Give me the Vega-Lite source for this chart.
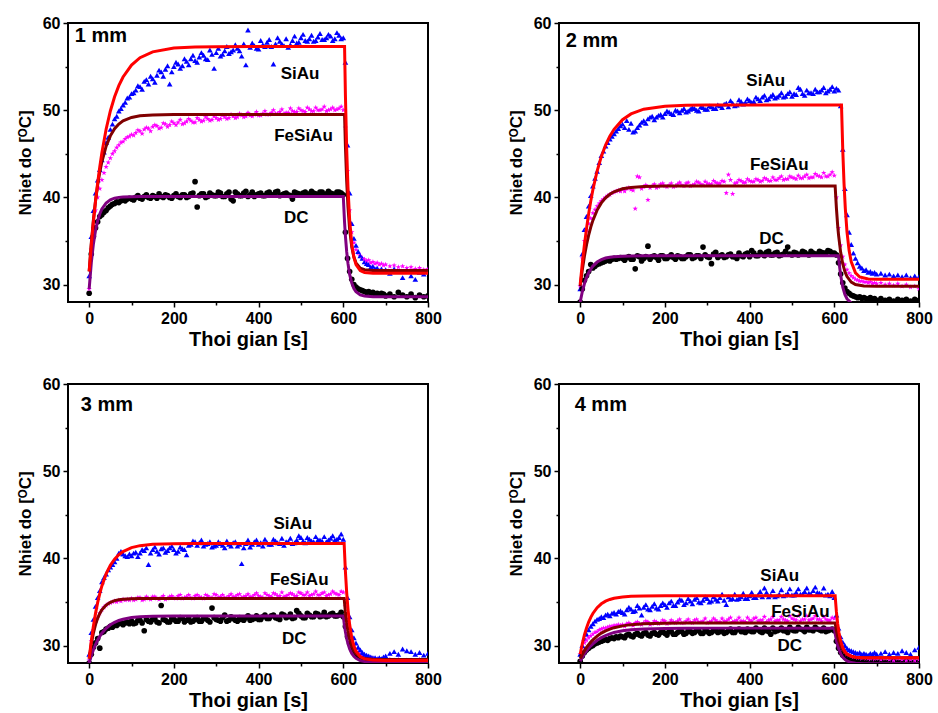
{
"$schema": "https://vega.github.io/schema/vega-lite/v6.json",
"padding": {"left": 15, "top": 14, "right": 0, "bottom": 0},
"bounds": "flush",
"data": {"values": [
{"p":"1 mm","t":0,"a":31.0,"b":29.5,"c":29.0},{"p":"1 mm","t":5,"a":35.5,"b":34.0,"c":33.5},{"p":"1 mm","t":10,"a":38.5,"b":36.5,"c":35.5},{"p":"1 mm","t":15,"a":40.5,"b":38.5,"c":36.5},{"p":"1 mm","t":20,"a":42.0,"b":40.0,"c":37.2},{"p":"1 mm","t":25,"a":43.2,"b":41.0,"c":37.8},{"p":"1 mm","t":30,"a":44.3,"b":42.0,"c":38.0},{"p":"1 mm","t":35,"a":45.2,"b":42.8,"c":38.3},{"p":"1 mm","t":40,"a":46.3,"b":43.5,"c":38.5},{"p":"1 mm","t":45,"a":46.9,"b":44.0,"c":38.8},{"p":"1 mm","t":50,"a":47.8,"b":44.5,"c":39.0},{"p":"1 mm","t":55,"a":48.4,"b":45.0,"c":39.2},{"p":"1 mm","t":60,"a":49.0,"b":45.3,"c":39.3},{"p":"1 mm","t":65,"a":49.3,"b":45.7,"c":39.5},{"p":"1 mm","t":70,"a":49.9,"b":46.0,"c":39.4},{"p":"1 mm","t":75,"a":50.2,"b":46.3,"c":39.6},{"p":"1 mm","t":80,"a":50.6,"b":46.4,"c":39.7},{"p":"1 mm","t":85,"a":50.9,"b":46.7,"c":39.6},{"p":"1 mm","t":90,"a":51.4,"b":46.9,"c":39.8},{"p":"1 mm","t":95,"a":51.5,"b":47.0,"c":39.9},{"p":"1 mm","t":100,"a":51.9,"b":47.2,"c":39.8},
{"p":"1 mm","t":110,"a":52.3,"b":47.4,"c":40.0},{"p":"1 mm","t":120,"a":52.7,"b":47.6,"c":39.9},{"p":"1 mm","t":130,"a":53.3,"b":47.8,"c":40.1},{"p":"1 mm","t":140,"a":53.0,"b":47.9,"c":40.0},{"p":"1 mm","t":150,"a":53.6,"b":48.1,"c":40.2},{"p":"1 mm","t":160,"a":54.0,"b":48.2,"c":39.9},{"p":"1 mm","t":170,"a":54.4,"b":48.0,"c":40.1},{"p":"1 mm","t":180,"a":54.7,"b":48.4,"c":40.3},{"p":"1 mm","t":190,"a":53.0,"b":48.3,"c":40.0},{"p":"1 mm","t":200,"a":55.0,"b":48.5,"c":40.2},{"p":"1 mm","t":210,"a":55.3,"b":48.6,"c":40.1},{"p":"1 mm","t":220,"a":55.1,"b":48.4,"c":40.3},{"p":"1 mm","t":230,"a":55.6,"b":48.7,"c":40.0},{"p":"1 mm","t":240,"a":55.9,"b":48.8,"c":40.4},{"p":"1 mm","t":250,"a":55.7,"b":48.6,"c":41.8},{"p":"1 mm","t":260,"a":56.1,"b":48.9,"c":40.2},{"p":"1 mm","t":270,"a":56.3,"b":48.8,"c":40.4},{"p":"1 mm","t":280,"a":55.8,"b":49.0,"c":40.1},{"p":"1 mm","t":290,"a":56.4,"b":48.9,"c":40.3},{"p":"1 mm","t":300,"a":56.6,"b":49.1,"c":40.2},{"p":"1 mm","t":310,"a":56.2,"b":49.0,"c":40.5},{"p":"1 mm","t":320,"a":56.8,"b":49.2,"c":40.1},{"p":"1 mm","t":330,"a":56.5,"b":49.1,"c":40.6},{"p":"1 mm","t":340,"a":56.9,"b":49.3,"c":39.6},{"p":"1 mm","t":350,"a":57.1,"b":49.2,"c":40.4},{"p":"1 mm","t":360,"a":56.2,"b":49.4,"c":40.2},{"p":"1 mm","t":370,"a":55.2,"b":49.3,"c":40.7},{"p":"1 mm","t":380,"a":57.2,"b":49.4,"c":40.3},{"p":"1 mm","t":390,"a":57.4,"b":49.5,"c":40.1},{"p":"1 mm","t":400,"a":57.0,"b":49.4,"c":40.4},{"p":"1 mm","t":410,"a":57.5,"b":49.6,"c":40.2},{"p":"1 mm","t":420,"a":57.8,"b":49.5,"c":40.5},{"p":"1 mm","t":430,"a":57.3,"b":49.7,"c":40.3},{"p":"1 mm","t":440,"a":57.6,"b":49.6,"c":40.6},{"p":"1 mm","t":450,"a":57.9,"b":49.8,"c":40.2},{"p":"1 mm","t":460,"a":57.4,"b":49.6,"c":40.4},{"p":"1 mm","t":470,"a":57.2,"b":49.7,"c":40.3},{"p":"1 mm","t":480,"a":58.0,"b":49.9,"c":39.8},{"p":"1 mm","t":490,"a":57.7,"b":49.8,"c":40.5},{"p":"1 mm","t":500,"a":58.3,"b":50.0,"c":40.3},{"p":"1 mm","t":510,"a":58.0,"b":49.8,"c":40.6},{"p":"1 mm","t":520,"a":58.2,"b":50.1,"c":40.4},{"p":"1 mm","t":530,"a":57.9,"b":49.9,"c":40.5},{"p":"1 mm","t":540,"a":58.4,"b":50.0,"c":40.3},{"p":"1 mm","t":550,"a":58.1,"b":50.1,"c":40.6},{"p":"1 mm","t":560,"a":58.3,"b":49.9,"c":40.4},{"p":"1 mm","t":570,"a":58.5,"b":50.1,"c":40.5},{"p":"1 mm","t":580,"a":58.2,"b":50.0,"c":40.3},{"p":"1 mm","t":590,"a":58.6,"b":50.2,"c":40.6},
{"p":"1 mm","t":600,"a":58.3,"b":50.0,"c":40.3},{"p":"1 mm","t":605,"a":55.5,"b":48.0,"c":36.0},{"p":"1 mm","t":610,"a":46.0,"b":43.0,"c":33.0},{"p":"1 mm","t":615,"a":40.5,"b":38.5,"c":31.5},{"p":"1 mm","t":620,"a":37.0,"b":36.0,"c":30.6},{"p":"1 mm","t":625,"a":35.3,"b":34.8,"c":30.0},{"p":"1 mm","t":630,"a":34.5,"b":34.0,"c":29.7},{"p":"1 mm","t":635,"a":33.8,"b":33.6,"c":29.5},{"p":"1 mm","t":640,"a":33.3,"b":33.3,"c":29.4},{"p":"1 mm","t":645,"a":33.0,"b":33.0,"c":29.3},{"p":"1 mm","t":650,"a":32.6,"b":32.9,"c":29.2},{"p":"1 mm","t":655,"a":32.4,"b":32.7,"c":29.1},{"p":"1 mm","t":660,"a":32.3,"b":32.8,"c":29.2},{"p":"1 mm","t":665,"a":32.0,"b":32.5,"c":29.0},{"p":"1 mm","t":670,"a":32.1,"b":32.6,"c":29.1},{"p":"1 mm","t":675,"a":31.8,"b":32.4,"c":28.9},{"p":"1 mm","t":680,"a":31.9,"b":32.5,"c":29.0},{"p":"1 mm","t":685,"a":31.6,"b":32.3,"c":28.8},{"p":"1 mm","t":690,"a":31.8,"b":32.4,"c":29.0},{"p":"1 mm","t":695,"a":31.5,"b":32.2,"c":28.9},{"p":"1 mm","t":700,"a":31.7,"b":32.3,"c":28.7},{"p":"1 mm","t":710,"a":31.3,"b":32.1,"c":28.9},{"p":"1 mm","t":720,"a":31.8,"b":32.2,"c":28.6},{"p":"1 mm","t":730,"a":31.5,"b":32.0,"c":29.1},{"p":"1 mm","t":740,"a":30.8,"b":32.1,"c":28.8},{"p":"1 mm","t":750,"a":31.6,"b":31.9,"c":28.6},{"p":"1 mm","t":760,"a":31.0,"b":32.0,"c":28.9},{"p":"1 mm","t":770,"a":30.6,"b":31.8,"c":28.5},{"p":"1 mm","t":780,"a":31.4,"b":31.9,"c":28.8},{"p":"1 mm","t":790,"a":31.2,"b":31.7,"c":28.6},{"p":"1 mm","t":800,"a":31.6,"b":31.8,"c":28.7},
{"p":"1 mm","t":105,"a":52.0,"b":47.1,"c":39.7},{"p":"1 mm","t":115,"a":52.8,"b":47.7,"c":40.2},{"p":"1 mm","t":125,"a":52.4,"b":47.3,"c":39.8},{"p":"1 mm","t":135,"a":53.5,"b":48.0,"c":40.3},{"p":"1 mm","t":145,"a":53.9,"b":47.6,"c":39.9},{"p":"1 mm","t":155,"a":53.2,"b":48.3,"c":40.1},{"p":"1 mm","t":165,"a":54.6,"b":47.9,"c":40.4},{"p":"1 mm","t":175,"a":53.9,"b":48.5,"c":40.0},{"p":"1 mm","t":185,"a":55.1,"b":48.1,"c":40.2},{"p":"1 mm","t":195,"a":54.4,"b":48.7,"c":39.9},{"p":"1 mm","t":205,"a":55.5,"b":48.3,"c":40.4},{"p":"1 mm","t":215,"a":54.8,"b":48.9,"c":40.0},{"p":"1 mm","t":225,"a":55.9,"b":48.5,"c":40.3},{"p":"1 mm","t":235,"a":55.2,"b":49.0,"c":40.1},{"p":"1 mm","t":245,"a":56.3,"b":48.6,"c":40.5},{"p":"1 mm","t":255,"a":55.5,"b":49.1,"c":38.9},{"p":"1 mm","t":265,"a":56.6,"b":48.7,"c":40.4},{"p":"1 mm","t":275,"a":55.9,"b":49.2,"c":40.0},{"p":"1 mm","t":285,"a":56.9,"b":48.8,"c":40.5},{"p":"1 mm","t":295,"a":54.8,"b":49.3,"c":40.2},{"p":"1 mm","t":305,"a":57.1,"b":48.9,"c":40.6},{"p":"1 mm","t":315,"a":56.4,"b":49.4,"c":40.1},{"p":"1 mm","t":325,"a":57.3,"b":49.0,"c":40.4},{"p":"1 mm","t":335,"a":56.7,"b":49.5,"c":39.8},{"p":"1 mm","t":345,"a":57.5,"b":49.1,"c":40.6},{"p":"1 mm","t":355,"a":56.8,"b":49.6,"c":40.2},{"p":"1 mm","t":365,"a":57.6,"b":49.2,"c":40.5},{"p":"1 mm","t":375,"a":59.2,"b":49.7,"c":40.1},{"p":"1 mm","t":385,"a":57.7,"b":49.3,"c":40.6},{"p":"1 mm","t":395,"a":57.1,"b":49.8,"c":40.3},{"p":"1 mm","t":405,"a":58.0,"b":49.4,"c":40.5},{"p":"1 mm","t":415,"a":57.3,"b":49.9,"c":40.2},{"p":"1 mm","t":425,"a":58.1,"b":49.5,"c":40.6},{"p":"1 mm","t":435,"a":55.3,"b":50.0,"c":40.3},{"p":"1 mm","t":445,"a":58.3,"b":49.6,"c":40.7},{"p":"1 mm","t":455,"a":57.6,"b":50.1,"c":40.3},{"p":"1 mm","t":465,"a":58.2,"b":49.7,"c":40.5},{"p":"1 mm","t":475,"a":57.5,"b":50.2,"c":40.2},{"p":"1 mm","t":485,"a":58.5,"b":49.8,"c":40.6},{"p":"1 mm","t":495,"a":57.8,"b":50.2,"c":40.4},{"p":"1 mm","t":505,"a":58.7,"b":49.9,"c":40.5},{"p":"1 mm","t":515,"a":57.9,"b":50.3,"c":40.3},{"p":"1 mm","t":525,"a":58.6,"b":49.9,"c":40.7},{"p":"1 mm","t":535,"a":58.0,"b":50.3,"c":40.4},{"p":"1 mm","t":545,"a":58.8,"b":50.0,"c":40.6},{"p":"1 mm","t":555,"a":58.1,"b":50.4,"c":40.3},{"p":"1 mm","t":565,"a":58.7,"b":50.0,"c":40.7},{"p":"1 mm","t":575,"a":58.0,"b":50.3,"c":40.4},{"p":"1 mm","t":585,"a":58.9,"b":50.1,"c":40.6},{"p":"1 mm","t":595,"a":58.2,"b":50.4,"c":40.5},

{"p":"2 mm","t":0,"a":29.5,"b":29.8,"c":28.0},{"p":"2 mm","t":5,"a":33.5,"b":33.0,"c":29.5},{"p":"2 mm","t":10,"a":36.3,"b":35.0,"c":30.5},{"p":"2 mm","t":15,"a":37.8,"b":36.2,"c":31.0},{"p":"2 mm","t":20,"a":39.0,"b":37.0,"c":31.5},{"p":"2 mm","t":25,"a":40.2,"b":37.6,"c":32.3},{"p":"2 mm","t":30,"a":41.3,"b":38.2,"c":31.9},{"p":"2 mm","t":35,"a":42.2,"b":38.6,"c":32.1},{"p":"2 mm","t":40,"a":43.0,"b":39.0,"c":32.3},{"p":"2 mm","t":45,"a":44.0,"b":39.3,"c":32.4},{"p":"2 mm","t":50,"a":44.8,"b":39.6,"c":32.5},{"p":"2 mm","t":55,"a":45.3,"b":39.8,"c":32.6},{"p":"2 mm","t":60,"a":45.9,"b":40.0,"c":32.7},{"p":"2 mm","t":65,"a":46.3,"b":40.2,"c":32.8},{"p":"2 mm","t":70,"a":46.7,"b":40.3,"c":32.7},{"p":"2 mm","t":75,"a":47.0,"b":40.5,"c":32.9},{"p":"2 mm","t":80,"a":47.3,"b":40.6,"c":33.0},{"p":"2 mm","t":85,"a":47.6,"b":40.7,"c":32.9},{"p":"2 mm","t":90,"a":47.9,"b":40.8,"c":33.0},{"p":"2 mm","t":95,"a":48.2,"b":40.7,"c":33.1},{"p":"2 mm","t":100,"a":48.4,"b":40.9,"c":33.0},
{"p":"2 mm","t":110,"a":48.8,"b":41.0,"c":33.1},{"p":"2 mm","t":120,"a":48.5,"b":40.9,"c":32.9},{"p":"2 mm","t":130,"a":47.6,"b":38.7,"c":31.8},{"p":"2 mm","t":140,"a":48.3,"b":42.3,"c":33.2},{"p":"2 mm","t":150,"a":48.8,"b":41.2,"c":33.0},{"p":"2 mm","t":160,"a":49.0,"b":39.7,"c":34.4},{"p":"2 mm","t":170,"a":49.3,"b":41.3,"c":33.2},{"p":"2 mm","t":180,"a":49.2,"b":41.1,"c":33.1},{"p":"2 mm","t":190,"a":49.5,"b":41.5,"c":33.3},{"p":"2 mm","t":200,"a":49.6,"b":41.3,"c":33.0},{"p":"2 mm","t":210,"a":49.8,"b":41.4,"c":33.2},{"p":"2 mm","t":220,"a":49.5,"b":41.2,"c":33.1},{"p":"2 mm","t":230,"a":49.9,"b":41.5,"c":33.3},{"p":"2 mm","t":240,"a":50.0,"b":41.4,"c":33.0},{"p":"2 mm","t":250,"a":49.8,"b":41.6,"c":33.2},{"p":"2 mm","t":260,"a":50.1,"b":41.3,"c":33.4},{"p":"2 mm","t":270,"a":50.2,"b":41.5,"c":33.1},{"p":"2 mm","t":280,"a":49.9,"b":41.7,"c":33.3},{"p":"2 mm","t":290,"a":50.3,"b":41.4,"c":34.3},{"p":"2 mm","t":300,"a":50.1,"b":41.6,"c":33.2},{"p":"2 mm","t":310,"a":50.4,"b":41.5,"c":32.4},{"p":"2 mm","t":320,"a":50.2,"b":41.7,"c":33.7},{"p":"2 mm","t":330,"a":50.5,"b":41.6,"c":33.3},{"p":"2 mm","t":340,"a":50.7,"b":41.8,"c":33.1},{"p":"2 mm","t":350,"a":50.4,"b":42.6,"c":33.4},{"p":"2 mm","t":360,"a":50.8,"b":40.4,"c":33.2},{"p":"2 mm","t":370,"a":50.6,"b":41.7,"c":33.0},{"p":"2 mm","t":380,"a":51.0,"b":41.9,"c":33.3},{"p":"2 mm","t":390,"a":50.9,"b":41.7,"c":33.5},{"p":"2 mm","t":400,"a":51.1,"b":41.9,"c":33.2},{"p":"2 mm","t":410,"a":51.0,"b":41.8,"c":33.6},{"p":"2 mm","t":420,"a":51.3,"b":42.0,"c":33.3},{"p":"2 mm","t":430,"a":51.5,"b":41.9,"c":33.5},{"p":"2 mm","t":440,"a":51.2,"b":42.1,"c":33.7},{"p":"2 mm","t":450,"a":51.6,"b":41.9,"c":33.4},{"p":"2 mm","t":460,"a":51.4,"b":42.0,"c":33.6},{"p":"2 mm","t":470,"a":51.7,"b":42.2,"c":33.3},{"p":"2 mm","t":480,"a":51.5,"b":42.0,"c":33.5},{"p":"2 mm","t":490,"a":51.9,"b":42.1,"c":34.3},{"p":"2 mm","t":500,"a":51.6,"b":42.3,"c":33.4},{"p":"2 mm","t":510,"a":51.8,"b":42.1,"c":33.6},{"p":"2 mm","t":520,"a":52.4,"b":42.2,"c":33.5},{"p":"2 mm","t":530,"a":51.7,"b":42.4,"c":33.7},{"p":"2 mm","t":540,"a":52.0,"b":42.2,"c":33.4},{"p":"2 mm","t":550,"a":51.9,"b":42.3,"c":33.6},{"p":"2 mm","t":560,"a":52.1,"b":42.5,"c":33.5},{"p":"2 mm","t":570,"a":52.3,"b":42.3,"c":33.7},{"p":"2 mm","t":580,"a":52.0,"b":42.4,"c":33.6},{"p":"2 mm","t":590,"a":52.4,"b":42.6,"c":33.8},
{"p":"2 mm","t":600,"a":52.2,"b":42.5,"c":33.6},{"p":"2 mm","t":605,"a":52.5,"b":40.0,"c":33.4},{"p":"2 mm","t":610,"a":52.3,"b":36.5,"c":32.5},{"p":"2 mm","t":615,"a":50.5,"b":34.5,"c":31.2},{"p":"2 mm","t":620,"a":45.5,"b":33.2,"c":30.2},{"p":"2 mm","t":625,"a":41.0,"b":32.3,"c":29.6},{"p":"2 mm","t":630,"a":38.0,"b":31.7,"c":29.2},{"p":"2 mm","t":635,"a":36.0,"b":31.3,"c":29.0},{"p":"2 mm","t":640,"a":34.6,"b":31.0,"c":28.8},{"p":"2 mm","t":645,"a":33.6,"b":30.8,"c":28.7},{"p":"2 mm","t":650,"a":33.0,"b":30.6,"c":28.6},{"p":"2 mm","t":655,"a":32.5,"b":30.5,"c":28.5},{"p":"2 mm","t":660,"a":32.1,"b":30.4,"c":28.6},{"p":"2 mm","t":665,"a":31.9,"b":30.4,"c":28.4},{"p":"2 mm","t":670,"a":31.6,"b":30.3,"c":28.5},{"p":"2 mm","t":675,"a":31.7,"b":30.3,"c":28.4},{"p":"2 mm","t":680,"a":31.4,"b":30.2,"c":28.3},{"p":"2 mm","t":685,"a":31.5,"b":30.3,"c":28.5},{"p":"2 mm","t":690,"a":31.3,"b":30.1,"c":28.3},{"p":"2 mm","t":695,"a":31.4,"b":30.2,"c":28.4},{"p":"2 mm","t":700,"a":31.2,"b":30.1,"c":28.2},{"p":"2 mm","t":710,"a":31.3,"b":30.2,"c":28.4},{"p":"2 mm","t":720,"a":31.1,"b":30.0,"c":28.2},{"p":"2 mm","t":730,"a":31.2,"b":30.1,"c":28.3},{"p":"2 mm","t":740,"a":31.0,"b":29.9,"c":28.1},{"p":"2 mm","t":750,"a":31.1,"b":30.1,"c":28.3},{"p":"2 mm","t":760,"a":30.9,"b":29.8,"c":28.2},{"p":"2 mm","t":770,"a":31.1,"b":30.0,"c":28.3},{"p":"2 mm","t":780,"a":30.8,"b":29.7,"c":28.1},{"p":"2 mm","t":790,"a":31.0,"b":29.8,"c":28.3},{"p":"2 mm","t":800,"a":30.9,"b":29.5,"c":28.2},
{"p":"2 mm","t":105,"a":48.0,"b":40.7,"c":32.8},{"p":"2 mm","t":115,"a":47.8,"b":41.1,"c":33.2},{"p":"2 mm","t":125,"a":47.5,"b":40.8,"c":32.9},{"p":"2 mm","t":135,"a":48.0,"b":42.4,"c":33.3},{"p":"2 mm","t":145,"a":48.6,"b":41.0,"c":32.7},{"p":"2 mm","t":155,"a":48.5,"b":41.4,"c":33.2},{"p":"2 mm","t":165,"a":49.2,"b":41.1,"c":32.9},{"p":"2 mm","t":175,"a":48.9,"b":41.5,"c":33.3},{"p":"2 mm","t":185,"a":49.4,"b":41.2,"c":32.8},{"p":"2 mm","t":195,"a":49.2,"b":41.6,"c":33.3},{"p":"2 mm","t":205,"a":49.9,"b":41.2,"c":33.0},{"p":"2 mm","t":215,"a":49.6,"b":41.6,"c":33.4},{"p":"2 mm","t":225,"a":50.0,"b":41.3,"c":32.9},{"p":"2 mm","t":235,"a":49.7,"b":41.7,"c":33.2},{"p":"2 mm","t":245,"a":50.2,"b":41.3,"c":33.0},{"p":"2 mm","t":255,"a":49.9,"b":41.7,"c":33.4},{"p":"2 mm","t":265,"a":50.3,"b":41.4,"c":33.0},{"p":"2 mm","t":275,"a":50.0,"b":41.8,"c":33.3},{"p":"2 mm","t":285,"a":50.4,"b":41.5,"c":33.0},{"p":"2 mm","t":295,"a":50.1,"b":41.8,"c":33.4},{"p":"2 mm","t":305,"a":50.5,"b":41.5,"c":33.1},{"p":"2 mm","t":315,"a":50.2,"b":41.9,"c":33.5},{"p":"2 mm","t":325,"a":50.6,"b":41.6,"c":33.1},{"p":"2 mm","t":335,"a":50.3,"b":41.9,"c":33.4},{"p":"2 mm","t":345,"a":50.8,"b":40.5,"c":33.2},{"p":"2 mm","t":355,"a":51.1,"b":42.0,"c":33.5},{"p":"2 mm","t":365,"a":50.5,"b":41.6,"c":33.2},{"p":"2 mm","t":375,"a":51.2,"b":42.0,"c":33.6},{"p":"2 mm","t":385,"a":50.7,"b":41.7,"c":33.2},{"p":"2 mm","t":395,"a":51.3,"b":42.1,"c":33.6},{"p":"2 mm","t":405,"a":50.9,"b":41.8,"c":33.9},{"p":"2 mm","t":415,"a":51.5,"b":42.1,"c":33.3},{"p":"2 mm","t":425,"a":51.1,"b":41.8,"c":33.7},{"p":"2 mm","t":435,"a":51.7,"b":42.2,"c":33.3},{"p":"2 mm","t":445,"a":51.3,"b":41.9,"c":33.8},{"p":"2 mm","t":455,"a":51.8,"b":42.3,"c":33.4},{"p":"2 mm","t":465,"a":51.5,"b":42.0,"c":33.7},{"p":"2 mm","t":475,"a":52.0,"b":42.4,"c":33.4},{"p":"2 mm","t":485,"a":51.6,"b":42.1,"c":33.8},{"p":"2 mm","t":495,"a":52.1,"b":42.4,"c":33.5},{"p":"2 mm","t":505,"a":51.9,"b":42.2,"c":33.7},{"p":"2 mm","t":515,"a":52.6,"b":42.5,"c":33.4},{"p":"2 mm","t":525,"a":51.9,"b":42.2,"c":33.8},{"p":"2 mm","t":535,"a":52.3,"b":42.6,"c":33.5},{"p":"2 mm","t":545,"a":52.0,"b":42.3,"c":33.8},{"p":"2 mm","t":555,"a":52.4,"b":42.7,"c":33.5},{"p":"2 mm","t":565,"a":52.1,"b":42.4,"c":33.8},{"p":"2 mm","t":575,"a":52.6,"b":42.8,"c":33.6},{"p":"2 mm","t":585,"a":52.2,"b":42.4,"c":33.9},{"p":"2 mm","t":595,"a":52.7,"b":42.9,"c":33.6},

{"p":"3 mm","t":0,"a":29.0,"b":28.3,"c":28.0},{"p":"3 mm","t":5,"a":31.5,"b":30.5,"c":29.0},{"p":"3 mm","t":10,"a":33.0,"b":31.8,"c":29.8},{"p":"3 mm","t":15,"a":34.5,"b":32.6,"c":30.3},{"p":"3 mm","t":20,"a":35.5,"b":33.2,"c":30.8},{"p":"3 mm","t":25,"a":36.3,"b":33.7,"c":29.7},{"p":"3 mm","t":30,"a":37.3,"b":34.1,"c":31.5},{"p":"3 mm","t":35,"a":37.8,"b":34.4,"c":31.6},{"p":"3 mm","t":40,"a":38.2,"b":34.6,"c":31.9},{"p":"3 mm","t":45,"a":38.7,"b":34.8,"c":32.0},{"p":"3 mm","t":50,"a":39.0,"b":34.9,"c":32.2},{"p":"3 mm","t":55,"a":39.3,"b":35.0,"c":32.1},{"p":"3 mm","t":60,"a":39.6,"b":35.1,"c":32.4},{"p":"3 mm","t":65,"a":40.0,"b":35.0,"c":32.3},{"p":"3 mm","t":70,"a":40.6,"b":35.2,"c":32.5},{"p":"3 mm","t":75,"a":40.8,"b":35.1,"c":32.6},{"p":"3 mm","t":80,"a":40.5,"b":35.3,"c":32.4},{"p":"3 mm","t":85,"a":40.3,"b":35.2,"c":32.6},{"p":"3 mm","t":90,"a":40.2,"b":35.3,"c":32.7},{"p":"3 mm","t":95,"a":40.5,"b":35.2,"c":32.5},{"p":"3 mm","t":100,"a":40.3,"b":35.4,"c":32.8},
{"p":"3 mm","t":110,"a":40.7,"b":35.3,"c":32.6},{"p":"3 mm","t":120,"a":40.6,"b":35.5,"c":32.9},{"p":"3 mm","t":130,"a":40.9,"b":35.3,"c":31.7},{"p":"3 mm","t":140,"a":39.3,"b":35.4,"c":32.8},{"p":"3 mm","t":150,"a":41.0,"b":35.6,"c":33.0},{"p":"3 mm","t":160,"a":40.8,"b":35.4,"c":32.7},{"p":"3 mm","t":170,"a":41.1,"b":35.5,"c":34.6},{"p":"3 mm","t":180,"a":40.7,"b":35.3,"c":32.9},{"p":"3 mm","t":190,"a":41.2,"b":35.6,"c":32.7},{"p":"3 mm","t":200,"a":41.0,"b":35.5,"c":33.0},{"p":"3 mm","t":210,"a":40.8,"b":35.7,"c":32.8},{"p":"3 mm","t":220,"a":41.1,"b":35.4,"c":33.1},{"p":"3 mm","t":230,"a":40.4,"b":35.6,"c":32.9},{"p":"3 mm","t":240,"a":41.6,"b":35.5,"c":32.7},{"p":"3 mm","t":250,"a":41.9,"b":35.7,"c":33.0},{"p":"3 mm","t":260,"a":41.8,"b":35.6,"c":32.8},{"p":"3 mm","t":270,"a":41.4,"b":35.4,"c":33.1},{"p":"3 mm","t":280,"a":41.7,"b":35.7,"c":32.9},{"p":"3 mm","t":290,"a":41.3,"b":35.5,"c":34.3},{"p":"3 mm","t":300,"a":41.5,"b":35.8,"c":33.0},{"p":"3 mm","t":310,"a":41.7,"b":35.6,"c":32.8},{"p":"3 mm","t":320,"a":41.2,"b":35.5,"c":33.5},{"p":"3 mm","t":330,"a":41.6,"b":35.7,"c":32.9},{"p":"3 mm","t":340,"a":41.8,"b":35.6,"c":33.1},{"p":"3 mm","t":350,"a":41.4,"b":35.8,"c":32.8},{"p":"3 mm","t":360,"a":39.4,"b":35.5,"c":33.0},{"p":"3 mm","t":370,"a":41.7,"b":35.7,"c":33.2},{"p":"3 mm","t":380,"a":41.3,"b":35.6,"c":32.9},{"p":"3 mm","t":390,"a":41.9,"b":35.8,"c":33.1},{"p":"3 mm","t":400,"a":41.6,"b":35.7,"c":33.0},{"p":"3 mm","t":410,"a":41.4,"b":35.5,"c":33.3},{"p":"3 mm","t":420,"a":41.8,"b":35.8,"c":33.1},{"p":"3 mm","t":430,"a":41.6,"b":35.6,"c":33.4},{"p":"3 mm","t":440,"a":42.0,"b":35.9,"c":33.2},{"p":"3 mm","t":450,"a":41.7,"b":35.7,"c":33.0},{"p":"3 mm","t":460,"a":41.5,"b":35.6,"c":33.5},{"p":"3 mm","t":470,"a":41.9,"b":35.8,"c":33.3},{"p":"3 mm","t":480,"a":41.7,"b":35.9,"c":33.1},{"p":"3 mm","t":490,"a":42.1,"b":35.7,"c":34.0},{"p":"3 mm","t":500,"a":42.4,"b":36.0,"c":33.4},{"p":"3 mm","t":510,"a":41.8,"b":35.8,"c":33.2},{"p":"3 mm","t":520,"a":42.2,"b":35.7,"c":33.5},{"p":"3 mm","t":530,"a":41.9,"b":35.9,"c":33.3},{"p":"3 mm","t":540,"a":42.1,"b":35.8,"c":33.6},{"p":"3 mm","t":550,"a":42.0,"b":36.0,"c":33.4},{"p":"3 mm","t":560,"a":41.9,"b":35.7,"c":33.3},{"p":"3 mm","t":570,"a":42.3,"b":35.9,"c":33.6},{"p":"3 mm","t":580,"a":42.1,"b":36.0,"c":33.4},{"p":"3 mm","t":590,"a":42.4,"b":35.8,"c":33.5},
{"p":"3 mm","t":600,"a":42.2,"b":36.1,"c":33.3},{"p":"3 mm","t":605,"a":39.0,"b":34.5,"c":32.2},{"p":"3 mm","t":610,"a":35.5,"b":32.5,"c":31.0},{"p":"3 mm","t":615,"a":33.3,"b":31.2,"c":30.2},{"p":"3 mm","t":620,"a":31.8,"b":30.4,"c":29.6},{"p":"3 mm","t":625,"a":30.9,"b":29.9,"c":29.2},{"p":"3 mm","t":630,"a":30.3,"b":29.5,"c":28.9},{"p":"3 mm","t":635,"a":29.8,"b":29.2,"c":28.7},{"p":"3 mm","t":640,"a":29.5,"b":29.0,"c":28.6},{"p":"3 mm","t":645,"a":29.2,"b":28.9,"c":28.5},{"p":"3 mm","t":650,"a":29.0,"b":28.8,"c":28.4},{"p":"3 mm","t":655,"a":28.9,"b":28.7,"c":28.4},{"p":"3 mm","t":660,"a":28.8,"b":28.6,"c":28.3},{"p":"3 mm","t":665,"a":28.7,"b":28.6,"c":28.3},{"p":"3 mm","t":670,"a":28.6,"b":28.5,"c":28.2},{"p":"3 mm","t":675,"a":28.6,"b":28.5,"c":28.3},{"p":"3 mm","t":680,"a":28.5,"b":28.4,"c":28.2},{"p":"3 mm","t":685,"a":28.6,"b":28.5,"c":28.2},{"p":"3 mm","t":690,"a":28.5,"b":28.4,"c":28.3},{"p":"3 mm","t":695,"a":28.7,"b":28.4,"c":28.2},{"p":"3 mm","t":700,"a":28.8,"b":28.3,"c":28.1},{"p":"3 mm","t":710,"a":29.1,"b":28.4,"c":28.2},{"p":"3 mm","t":720,"a":29.3,"b":28.3,"c":28.1},{"p":"3 mm","t":730,"a":29.0,"b":28.4,"c":28.2},{"p":"3 mm","t":740,"a":29.6,"b":28.2,"c":28.1},{"p":"3 mm","t":750,"a":29.4,"b":28.3,"c":28.2},{"p":"3 mm","t":760,"a":29.3,"b":28.3,"c":28.1},{"p":"3 mm","t":770,"a":29.0,"b":28.2,"c":28.2},{"p":"3 mm","t":780,"a":29.2,"b":28.4,"c":28.1},{"p":"3 mm","t":790,"a":28.9,"b":28.2,"c":28.2},{"p":"3 mm","t":800,"a":29.1,"b":28.3,"c":28.1},
{"p":"3 mm","t":105,"a":40.6,"b":35.2,"c":32.5},{"p":"3 mm","t":115,"a":40.2,"b":35.5,"c":32.9},{"p":"3 mm","t":125,"a":41.0,"b":35.2,"c":32.6},{"p":"3 mm","t":135,"a":41.2,"b":35.6,"c":33.0},{"p":"3 mm","t":145,"a":40.6,"b":35.3,"c":32.7},{"p":"3 mm","t":155,"a":41.3,"b":35.6,"c":33.1},{"p":"3 mm","t":165,"a":40.5,"b":35.3,"c":32.6},{"p":"3 mm","t":175,"a":41.2,"b":35.7,"c":33.0},{"p":"3 mm","t":185,"a":40.9,"b":35.4,"c":32.7},{"p":"3 mm","t":195,"a":41.4,"b":35.7,"c":33.1},{"p":"3 mm","t":205,"a":40.6,"b":35.4,"c":32.8},{"p":"3 mm","t":215,"a":41.3,"b":35.8,"c":33.2},{"p":"3 mm","t":225,"a":41.0,"b":35.5,"c":32.7},{"p":"3 mm","t":235,"a":41.5,"b":35.8,"c":33.1},{"p":"3 mm","t":245,"a":42.0,"b":35.4,"c":32.8},{"p":"3 mm","t":255,"a":41.5,"b":35.8,"c":33.2},{"p":"3 mm","t":265,"a":42.1,"b":35.5,"c":32.8},{"p":"3 mm","t":275,"a":41.6,"b":35.8,"c":33.1},{"p":"3 mm","t":285,"a":41.9,"b":35.5,"c":32.7},{"p":"3 mm","t":295,"a":41.4,"b":35.9,"c":33.2},{"p":"3 mm","t":305,"a":41.9,"b":35.5,"c":32.9},{"p":"3 mm","t":315,"a":41.5,"b":35.8,"c":33.2},{"p":"3 mm","t":325,"a":42.0,"b":35.5,"c":32.8},{"p":"3 mm","t":335,"a":41.4,"b":35.9,"c":33.3},{"p":"3 mm","t":345,"a":41.9,"b":35.6,"c":32.9},{"p":"3 mm","t":355,"a":41.6,"b":35.9,"c":33.2},{"p":"3 mm","t":365,"a":41.2,"b":35.6,"c":32.9},{"p":"3 mm","t":375,"a":42.1,"b":35.9,"c":33.4},{"p":"3 mm","t":385,"a":41.6,"b":35.6,"c":33.0},{"p":"3 mm","t":395,"a":42.1,"b":36.0,"c":33.4},{"p":"3 mm","t":405,"a":41.8,"b":35.6,"c":33.0},{"p":"3 mm","t":415,"a":42.2,"b":36.0,"c":33.5},{"p":"3 mm","t":425,"a":41.6,"b":35.7,"c":33.1},{"p":"3 mm","t":435,"a":42.2,"b":36.0,"c":33.5},{"p":"3 mm","t":445,"a":41.8,"b":35.7,"c":33.1},{"p":"3 mm","t":455,"a":42.3,"b":36.1,"c":33.6},{"p":"3 mm","t":465,"a":41.9,"b":35.7,"c":33.2},{"p":"3 mm","t":475,"a":42.3,"b":36.0,"c":33.6},{"p":"3 mm","t":485,"a":41.8,"b":35.7,"c":33.2},{"p":"3 mm","t":495,"a":42.6,"b":36.1,"c":33.7},{"p":"3 mm","t":505,"a":42.0,"b":35.8,"c":33.2},{"p":"3 mm","t":515,"a":42.4,"b":36.1,"c":33.7},{"p":"3 mm","t":525,"a":42.0,"b":35.8,"c":33.3},{"p":"3 mm","t":535,"a":42.5,"b":36.2,"c":33.7},{"p":"3 mm","t":545,"a":42.1,"b":35.8,"c":33.3},{"p":"3 mm","t":555,"a":42.5,"b":36.1,"c":33.8},{"p":"3 mm","t":565,"a":42.1,"b":35.8,"c":33.4},{"p":"3 mm","t":575,"a":42.6,"b":36.2,"c":33.7},{"p":"3 mm","t":585,"a":42.2,"b":35.9,"c":33.4},{"p":"3 mm","t":595,"a":42.8,"b":36.2,"c":33.8},

{"p":"4 mm","t":0,"a":29.0,"b":29.0,"c":28.2},{"p":"4 mm","t":5,"a":30.0,"b":29.8,"c":28.8},{"p":"4 mm","t":10,"a":30.8,"b":30.3,"c":29.2},{"p":"4 mm","t":15,"a":31.3,"b":30.6,"c":29.5},{"p":"4 mm","t":20,"a":31.8,"b":30.9,"c":29.7},{"p":"4 mm","t":25,"a":32.2,"b":31.1,"c":29.9},{"p":"4 mm","t":30,"a":32.5,"b":31.3,"c":30.0},{"p":"4 mm","t":35,"a":32.8,"b":31.5,"c":30.2},{"p":"4 mm","t":40,"a":33.0,"b":31.6,"c":30.3},{"p":"4 mm","t":45,"a":33.1,"b":31.8,"c":30.4},{"p":"4 mm","t":50,"a":33.3,"b":31.9,"c":30.5},{"p":"4 mm","t":55,"a":33.2,"b":32.0,"c":30.6},{"p":"4 mm","t":60,"a":33.5,"b":32.0,"c":30.7},{"p":"4 mm","t":65,"a":33.6,"b":32.1,"c":30.6},{"p":"4 mm","t":70,"a":33.4,"b":32.2,"c":30.8},{"p":"4 mm","t":75,"a":33.7,"b":32.2,"c":30.9},{"p":"4 mm","t":80,"a":33.8,"b":32.3,"c":30.8},{"p":"4 mm","t":85,"a":33.6,"b":32.3,"c":31.0},{"p":"4 mm","t":90,"a":33.9,"b":32.4,"c":30.9},{"p":"4 mm","t":95,"a":34.0,"b":32.3,"c":31.1},{"p":"4 mm","t":100,"a":33.8,"b":32.4,"c":31.0},
{"p":"4 mm","t":110,"a":34.1,"b":32.5,"c":31.2},{"p":"4 mm","t":120,"a":34.2,"b":32.4,"c":31.1},{"p":"4 mm","t":130,"a":34.0,"b":32.6,"c":31.3},{"p":"4 mm","t":140,"a":34.3,"b":32.5,"c":31.2},{"p":"4 mm","t":150,"a":34.4,"b":32.6,"c":31.4},{"p":"4 mm","t":160,"a":34.2,"b":32.7,"c":31.2},{"p":"4 mm","t":170,"a":34.5,"b":32.5,"c":31.4},{"p":"4 mm","t":180,"a":34.3,"b":32.7,"c":31.3},{"p":"4 mm","t":190,"a":34.6,"b":32.6,"c":31.5},{"p":"4 mm","t":200,"a":34.7,"b":32.8,"c":31.4},{"p":"4 mm","t":210,"a":34.9,"b":32.6,"c":31.6},{"p":"4 mm","t":220,"a":34.6,"b":32.7,"c":31.3},{"p":"4 mm","t":230,"a":35.0,"b":32.8,"c":31.5},{"p":"4 mm","t":240,"a":35.2,"b":32.6,"c":31.6},{"p":"4 mm","t":250,"a":34.9,"b":32.8,"c":31.4},{"p":"4 mm","t":260,"a":35.1,"b":32.7,"c":31.6},{"p":"4 mm","t":270,"a":35.3,"b":32.9,"c":31.5},{"p":"4 mm","t":280,"a":35.0,"b":32.7,"c":31.7},{"p":"4 mm","t":290,"a":35.2,"b":32.8,"c":31.4},{"p":"4 mm","t":300,"a":35.4,"b":32.6,"c":31.6},{"p":"4 mm","t":310,"a":35.1,"b":32.8,"c":31.5},{"p":"4 mm","t":320,"a":35.3,"b":32.9,"c":31.7},{"p":"4 mm","t":330,"a":35.5,"b":32.7,"c":31.6},{"p":"4 mm","t":340,"a":35.2,"b":32.8,"c":31.4},{"p":"4 mm","t":350,"a":35.6,"b":33.0,"c":31.7},{"p":"4 mm","t":360,"a":35.4,"b":32.7,"c":31.5},{"p":"4 mm","t":370,"a":35.3,"b":32.9,"c":31.8},{"p":"4 mm","t":380,"a":35.6,"b":32.8,"c":31.6},{"p":"4 mm","t":390,"a":35.4,"b":32.7,"c":31.5},{"p":"4 mm","t":400,"a":35.7,"b":32.9,"c":31.7},{"p":"4 mm","t":410,"a":35.5,"b":33.1,"c":31.6},{"p":"4 mm","t":420,"a":35.8,"b":32.8,"c":31.8},{"p":"4 mm","t":430,"a":35.6,"b":32.9,"c":31.5},{"p":"4 mm","t":440,"a":36.1,"b":32.7,"c":31.7},{"p":"4 mm","t":450,"a":35.8,"b":33.0,"c":31.3},{"p":"4 mm","t":460,"a":35.6,"b":32.8,"c":31.6},{"p":"4 mm","t":470,"a":35.9,"b":32.9,"c":31.8},{"p":"4 mm","t":480,"a":35.7,"b":33.0,"c":31.7},{"p":"4 mm","t":490,"a":36.0,"b":32.8,"c":31.5},{"p":"4 mm","t":500,"a":35.8,"b":33.1,"c":31.8},{"p":"4 mm","t":510,"a":36.1,"b":32.9,"c":31.7},{"p":"4 mm","t":520,"a":35.9,"b":32.8,"c":31.9},{"p":"4 mm","t":530,"a":36.2,"b":33.0,"c":31.6},{"p":"4 mm","t":540,"a":36.0,"b":32.9,"c":31.8},{"p":"4 mm","t":550,"a":36.3,"b":33.1,"c":31.7},{"p":"4 mm","t":560,"a":36.1,"b":33.0,"c":31.9},{"p":"4 mm","t":570,"a":35.9,"b":32.8,"c":31.7},{"p":"4 mm","t":580,"a":35.8,"b":33.0,"c":31.6},{"p":"4 mm","t":590,"a":35.7,"b":32.9,"c":31.8},
{"p":"4 mm","t":600,"a":35.5,"b":33.1,"c":31.7},{"p":"4 mm","t":605,"a":33.5,"b":31.8,"c":30.5},{"p":"4 mm","t":610,"a":32.0,"b":30.8,"c":29.7},{"p":"4 mm","t":615,"a":31.0,"b":30.1,"c":29.2},{"p":"4 mm","t":620,"a":30.4,"b":29.6,"c":28.9},{"p":"4 mm","t":625,"a":30.0,"b":29.3,"c":28.7},{"p":"4 mm","t":630,"a":29.7,"b":29.0,"c":28.5},{"p":"4 mm","t":635,"a":29.5,"b":28.9,"c":28.4},{"p":"4 mm","t":640,"a":29.4,"b":28.8,"c":28.3},{"p":"4 mm","t":645,"a":29.3,"b":28.7,"c":28.3},{"p":"4 mm","t":650,"a":29.2,"b":28.7,"c":28.2},{"p":"4 mm","t":655,"a":29.1,"b":28.6,"c":28.3},{"p":"4 mm","t":660,"a":29.2,"b":28.6,"c":28.2},{"p":"4 mm","t":665,"a":29.0,"b":28.5,"c":28.1},{"p":"4 mm","t":670,"a":29.1,"b":28.6,"c":28.2},{"p":"4 mm","t":675,"a":29.0,"b":28.5,"c":28.1},{"p":"4 mm","t":680,"a":28.9,"b":28.5,"c":28.2},{"p":"4 mm","t":685,"a":29.1,"b":28.4,"c":28.1},{"p":"4 mm","t":690,"a":29.0,"b":28.5,"c":28.1},{"p":"4 mm","t":695,"a":29.2,"b":28.4,"c":28.2},{"p":"4 mm","t":700,"a":29.0,"b":28.5,"c":28.1},{"p":"4 mm","t":710,"a":29.1,"b":28.4,"c":28.2},{"p":"4 mm","t":720,"a":29.3,"b":28.5,"c":28.1},{"p":"4 mm","t":730,"a":29.0,"b":28.4,"c":28.1},{"p":"4 mm","t":740,"a":29.2,"b":28.3,"c":28.2},{"p":"4 mm","t":750,"a":29.1,"b":28.5,"c":28.1},{"p":"4 mm","t":760,"a":29.4,"b":28.4,"c":28.1},{"p":"4 mm","t":770,"a":29.2,"b":28.3,"c":28.2},{"p":"4 mm","t":780,"a":29.0,"b":28.4,"c":28.1},{"p":"4 mm","t":790,"a":29.5,"b":28.3,"c":28.1},{"p":"4 mm","t":800,"a":29.8,"b":28.4,"c":28.1},
{"p":"4 mm","t":105,"a":33.6,"b":32.2,"c":30.9},{"p":"4 mm","t":115,"a":34.4,"b":32.6,"c":31.3},{"p":"4 mm","t":125,"a":33.9,"b":32.3,"c":31.0},{"p":"4 mm","t":135,"a":34.6,"b":32.7,"c":31.4},{"p":"4 mm","t":145,"a":33.5,"b":32.4,"c":31.1},{"p":"4 mm","t":155,"a":34.7,"b":32.8,"c":31.5},{"p":"4 mm","t":165,"a":34.1,"b":32.4,"c":31.1},{"p":"4 mm","t":175,"a":34.8,"b":32.8,"c":31.5},{"p":"4 mm","t":185,"a":34.2,"b":32.5,"c":31.2},{"p":"4 mm","t":195,"a":34.9,"b":32.9,"c":31.6},{"p":"4 mm","t":205,"a":34.4,"b":32.5,"c":31.2},{"p":"4 mm","t":215,"a":35.1,"b":32.9,"c":31.6},{"p":"4 mm","t":225,"a":34.6,"b":32.6,"c":31.3},{"p":"4 mm","t":235,"a":35.3,"b":33.0,"c":31.7},{"p":"4 mm","t":245,"a":34.7,"b":32.6,"c":31.3},{"p":"4 mm","t":255,"a":35.4,"b":33.0,"c":31.7},{"p":"4 mm","t":265,"a":34.8,"b":32.6,"c":31.4},{"p":"4 mm","t":275,"a":35.5,"b":33.0,"c":31.8},{"p":"4 mm","t":285,"a":34.9,"b":32.7,"c":31.4},{"p":"4 mm","t":295,"a":35.6,"b":33.1,"c":31.8},{"p":"4 mm","t":305,"a":35.0,"b":32.7,"c":31.4},{"p":"4 mm","t":315,"a":35.6,"b":33.1,"c":31.8},{"p":"4 mm","t":325,"a":35.1,"b":32.7,"c":31.5},{"p":"4 mm","t":335,"a":35.9,"b":33.1,"c":31.8},{"p":"4 mm","t":345,"a":34.7,"b":32.8,"c":31.5},{"p":"4 mm","t":355,"a":35.3,"b":33.2,"c":31.9},{"p":"4 mm","t":365,"a":35.9,"b":32.8,"c":31.5},{"p":"4 mm","t":375,"a":35.4,"b":33.2,"c":31.9},{"p":"4 mm","t":385,"a":36.0,"b":32.8,"c":31.6},{"p":"4 mm","t":395,"a":35.4,"b":33.2,"c":31.9},{"p":"4 mm","t":405,"a":36.1,"b":32.8,"c":31.6},{"p":"4 mm","t":415,"a":35.5,"b":33.2,"c":32.0},{"p":"4 mm","t":425,"a":36.2,"b":32.9,"c":31.6},{"p":"4 mm","t":435,"a":36.6,"b":33.3,"c":32.0},{"p":"4 mm","t":445,"a":35.6,"b":32.9,"c":31.6},{"p":"4 mm","t":455,"a":36.3,"b":33.3,"c":32.0},{"p":"4 mm","t":465,"a":35.7,"b":32.9,"c":31.7},{"p":"4 mm","t":475,"a":36.4,"b":33.3,"c":32.0},{"p":"4 mm","t":485,"a":35.8,"b":32.9,"c":31.7},{"p":"4 mm","t":495,"a":36.5,"b":33.4,"c":32.1},{"p":"4 mm","t":505,"a":35.8,"b":33.0,"c":31.7},{"p":"4 mm","t":515,"a":36.5,"b":33.4,"c":32.1},{"p":"4 mm","t":525,"a":35.9,"b":33.0,"c":31.8},{"p":"4 mm","t":535,"a":36.6,"b":33.4,"c":32.1},{"p":"4 mm","t":545,"a":35.9,"b":33.0,"c":31.8},{"p":"4 mm","t":555,"a":36.7,"b":33.4,"c":32.1},{"p":"4 mm","t":565,"a":36.0,"b":33.0,"c":31.8},{"p":"4 mm","t":575,"a":36.6,"b":33.3,"c":32.0},{"p":"4 mm","t":585,"a":35.9,"b":32.9,"c":31.7},{"p":"4 mm","t":595,"a":36.2,"b":33.2,"c":31.9},

{"p":"1 mm","k":"f","t":0,"fa":31.5,"fb":31.5,"fc":29.5},{"p":"1 mm","k":"f","t":5,"fa":34.53,"fb":34.76,"fc":32.5},{"p":"1 mm","k":"f","t":10,"fa":37.21,"fb":37.43,"fc":34.66},{"p":"1 mm","k":"f","t":15,"fa":39.57,"fb":39.62,"fc":36.2},{"p":"1 mm","k":"f","t":20,"fa":41.65,"fb":41.41,"fc":37.31},{"p":"1 mm","k":"f","t":25,"fa":43.49,"fb":42.88,"fc":38.1},{"p":"1 mm","k":"f","t":30,"fa":45.11,"fb":44.08,"fc":38.67},{"p":"1 mm","k":"f","t":40,"fa":47.81,"fb":45.87,"fc":39.36},{"p":"1 mm","k":"f","t":50,"fa":49.91,"fb":47.06,"fc":39.72},{"p":"1 mm","k":"f","t":60,"fa":51.54,"fb":47.87,"fc":39.91},{"p":"1 mm","k":"f","t":70,"fa":52.82,"fb":48.41,"fc":40.0},{"p":"1 mm","k":"f","t":80,"fa":53.81,"fb":48.77,"fc":40.05},{"p":"1 mm","k":"f","t":100,"fa":55.18,"fb":49.17,"fc":40.08},{"p":"1 mm","k":"f","t":120,"fa":56.02,"fb":49.35,"fc":40.1},{"p":"1 mm","k":"f","t":150,"fa":56.69,"fb":49.46,"fc":40.1},{"p":"1 mm","k":"f","t":200,"fa":57.13,"fb":49.5,"fc":40.1},{"p":"1 mm","k":"f","t":250,"fa":57.25,"fb":49.5,"fc":40.1},{"p":"1 mm","k":"f","t":300,"fa":57.29,"fb":49.5,"fc":40.1},{"p":"1 mm","k":"f","t":400,"fa":57.3,"fb":49.5,"fc":40.1},{"p":"1 mm","k":"f","t":600,"fa":57.3,"fb":49.5,"fc":40.1},{"p":"1 mm","k":"f","t":603,"fa":57.3,"fb":49.5,"fc":37.12},{"p":"1 mm","k":"f","t":605,"fa":51.74,"fb":45.94,"fc":35.57},{"p":"1 mm","k":"f","t":608,"fa":45.54,"fb":41.87,"fc":33.77},{"p":"1 mm","k":"f","t":611,"fa":41.21,"fb":38.96,"fc":32.43},{"p":"1 mm","k":"f","t":615,"fa":37.43,"fb":36.32,"fc":31.17},{"p":"1 mm","k":"f","t":620,"fa":34.65,"fb":34.31,"fc":30.16},{"p":"1 mm","k":"f","t":625,"fa":33.14,"fb":33.15,"fc":29.54},{"p":"1 mm","k":"f","t":630,"fa":32.3,"fb":32.49,"fc":29.17},{"p":"1 mm","k":"f","t":640,"fa":31.6,"fb":31.89,"fc":28.81},{"p":"1 mm","k":"f","t":650,"fa":31.39,"fb":31.7,"fc":28.68},{"p":"1 mm","k":"f","t":670,"fa":31.31,"fb":31.61,"fc":28.61},{"p":"1 mm","k":"f","t":700,"fa":31.3,"fb":31.6,"fc":28.6},{"p":"1 mm","k":"f","t":800,"fa":31.3,"fb":31.6,"fc":28.6},

{"p":"2 mm","k":"f","t":0,"fa":30.0,"fb":29.8,"fc":28.0},{"p":"2 mm","k":"f","t":5,"fa":32.42,"fb":31.68,"fc":29.17},{"p":"2 mm","k":"f","t":10,"fa":34.56,"fb":33.25,"fc":30.09},{"p":"2 mm","k":"f","t":15,"fa":36.44,"fb":34.57,"fc":30.8},{"p":"2 mm","k":"f","t":20,"fa":38.11,"fb":35.67,"fc":31.35},{"p":"2 mm","k":"f","t":25,"fa":39.57,"fb":36.59,"fc":31.78},{"p":"2 mm","k":"f","t":30,"fa":40.87,"fb":37.36,"fc":32.12},{"p":"2 mm","k":"f","t":40,"fa":43.02,"fb":38.54,"fc":32.58},{"p":"2 mm","k":"f","t":50,"fa":44.7,"fb":39.37,"fc":32.86},{"p":"2 mm","k":"f","t":60,"fa":46.0,"fb":39.95,"fc":33.04},{"p":"2 mm","k":"f","t":70,"fa":47.02,"fb":40.36,"fc":33.14},{"p":"2 mm","k":"f","t":80,"fa":47.81,"fb":40.64,"fc":33.2},{"p":"2 mm","k":"f","t":100,"fa":48.91,"fb":40.98,"fc":33.26},{"p":"2 mm","k":"f","t":120,"fa":49.57,"fb":41.14,"fc":33.29},{"p":"2 mm","k":"f","t":150,"fa":50.12,"fb":41.25,"fc":33.3},{"p":"2 mm","k":"f","t":200,"fa":50.46,"fb":41.3,"fc":33.3},{"p":"2 mm","k":"f","t":250,"fa":50.56,"fb":41.3,"fc":33.3},{"p":"2 mm","k":"f","t":300,"fa":50.59,"fb":41.3,"fc":33.3},{"p":"2 mm","k":"f","t":400,"fa":50.6,"fb":41.3,"fc":33.3},{"p":"2 mm","k":"f","t":602,"fa":50.6,"fb":41.3,"fc":33.3},{"p":"2 mm","k":"f","t":605,"fb":38.76},{"p":"2 mm","k":"f","t":608,"fb":36.77},{"p":"2 mm","k":"f","t":610,"fb":35.7,"fc":33.3},{"p":"2 mm","k":"f","t":612,"fc":32.27},{"p":"2 mm","k":"f","t":615,"fb":33.69,"fc":31.06},{"p":"2 mm","k":"f","t":617,"fa":50.6},{"p":"2 mm","k":"f","t":620,"fa":45.42,"fb":32.37,"fc":29.7},{"p":"2 mm","k":"f","t":623,"fa":41.58},{"p":"2 mm","k":"f","t":625,"fb":31.49,"fc":28.87},{"p":"2 mm","k":"f","t":626,"fa":38.73},{"p":"2 mm","k":"f","t":630,"fa":36.05,"fb":30.92,"fc":28.37},{"p":"2 mm","k":"f","t":635,"fa":33.9},{"p":"2 mm","k":"f","t":640,"fa":32.61,"fb":30.28,"fc":27.88},{"p":"2 mm","k":"f","t":650,"fa":31.34,"fb":30.01,"fc":27.7},{"p":"2 mm","k":"f","t":660,"fa":30.87},{"p":"2 mm","k":"f","t":670,"fb":29.84,"fc":27.61},{"p":"2 mm","k":"f","t":680,"fa":30.64},{"p":"2 mm","k":"f","t":700,"fa":30.6,"fb":29.8,"fc":27.6},{"p":"2 mm","k":"f","t":800,"fa":30.6,"fb":29.8,"fc":27.6},

{"p":"3 mm","k":"f","t":0,"fa":28.5,"fb":28.5,"fc":28.0},{"p":"3 mm","k":"f","t":5,"fa":30.53,"fb":30.17,"fc":28.83},{"p":"3 mm","k":"f","t":10,"fa":32.24,"fb":31.44,"fc":29.53},{"p":"3 mm","k":"f","t":15,"fa":33.69,"fb":32.4,"fc":30.12},{"p":"3 mm","k":"f","t":20,"fa":34.92,"fb":33.13,"fc":30.63},{"p":"3 mm","k":"f","t":25,"fa":35.96,"fb":33.68,"fc":31.05},{"p":"3 mm","k":"f","t":30,"fa":36.84,"fb":34.1,"fc":31.41},{"p":"3 mm","k":"f","t":40,"fa":38.22,"fb":34.65,"fc":31.98},{"p":"3 mm","k":"f","t":50,"fa":39.21,"fb":34.97,"fc":32.38},{"p":"3 mm","k":"f","t":60,"fa":39.91,"fb":35.15,"fc":32.67},{"p":"3 mm","k":"f","t":70,"fa":40.42,"fb":35.26,"fc":32.88},{"p":"3 mm","k":"f","t":80,"fa":40.78,"fb":35.32,"fc":33.02},{"p":"3 mm","k":"f","t":100,"fa":41.23,"fb":35.37,"fc":33.21},{"p":"3 mm","k":"f","t":120,"fa":41.46,"fb":35.4,"fc":33.3},{"p":"3 mm","k":"f","t":150,"fa":41.61,"fb":35.4,"fc":33.36},{"p":"3 mm","k":"f","t":200,"fa":41.69,"fb":35.4,"fc":33.39},{"p":"3 mm","k":"f","t":250,"fa":41.7,"fb":35.4,"fc":33.4},{"p":"3 mm","k":"f","t":400,"fa":41.7,"fb":35.4,"fc":33.4},{"p":"3 mm","k":"f","t":600,"fa":41.7,"fb":35.4,"fc":33.4},{"p":"3 mm","k":"f","t":602,"fa":41.7,"fb":35.4,"fc":32.59},{"p":"3 mm","k":"f","t":605,"fa":38.5,"fb":33.85,"fc":31.59},{"p":"3 mm","k":"f","t":608,"fa":36.07,"fb":32.65,"fc":30.82},{"p":"3 mm","k":"f","t":611,"fa":34.21,"fb":31.7,"fc":30.22},{"p":"3 mm","k":"f","t":615,"fa":32.41,"fb":30.77,"fc":29.62},{"p":"3 mm","k":"f","t":620,"fa":30.91,"fb":29.96,"fc":29.1},{"p":"3 mm","k":"f","t":625,"fa":29.96,"fb":29.43,"fc":28.76},{"p":"3 mm","k":"f","t":630,"fa":29.35,"fb":29.08,"fc":28.53},{"p":"3 mm","k":"f","t":640,"fa":28.72,"fb":28.69,"fc":28.29},{"p":"3 mm","k":"f","t":650,"fa":28.47,"fb":28.53,"fc":28.18},{"p":"3 mm","k":"f","t":670,"fa":28.33,"fb":28.42,"fc":28.12},{"p":"3 mm","k":"f","t":700,"fa":28.3,"fb":28.4,"fc":28.1},{"p":"3 mm","k":"f","t":800,"fa":28.3,"fb":28.4,"fc":28.1},

{"p":"4 mm","k":"f","t":0,"fa":29.0,"fb":28.5,"fc":28.2},{"p":"4 mm","k":"f","t":5,"fa":30.21,"fb":28.98,"fc":28.65},{"p":"4 mm","k":"f","t":10,"fa":31.21,"fb":29.41,"fc":29.04},{"p":"4 mm","k":"f","t":15,"fa":32.02,"fb":29.78,"fc":29.39},{"p":"4 mm","k":"f","t":20,"fa":32.69,"fb":30.11,"fc":29.7},{"p":"4 mm","k":"f","t":25,"fa":33.24,"fb":30.41,"fc":29.97},{"p":"4 mm","k":"f","t":30,"fa":33.68,"fb":30.66,"fc":30.2},{"p":"4 mm","k":"f","t":40,"fa":34.35,"fb":31.09,"fc":30.6},{"p":"4 mm","k":"f","t":50,"fa":34.79,"fb":31.43,"fc":30.91},{"p":"4 mm","k":"f","t":60,"fa":35.09,"fb":31.69,"fc":31.15},{"p":"4 mm","k":"f","t":70,"fa":35.29,"fb":31.89,"fc":31.34},{"p":"4 mm","k":"f","t":80,"fa":35.43,"fb":32.05,"fc":31.49},{"p":"4 mm","k":"f","t":100,"fa":35.58,"fb":32.26,"fc":31.69},{"p":"4 mm","k":"f","t":120,"fa":35.65,"fb":32.4,"fc":31.81},{"p":"4 mm","k":"f","t":150,"fa":35.68,"fb":32.5,"fc":31.91},{"p":"4 mm","k":"f","t":200,"fa":35.7,"fb":32.57,"fc":31.97},{"p":"4 mm","k":"f","t":250,"fa":35.7,"fb":32.59,"fc":31.99},{"p":"4 mm","k":"f","t":300,"fa":35.7,"fb":32.6,"fc":32.0},{"p":"4 mm","k":"f","t":600,"fa":35.7,"fb":32.6,"fc":32.0},{"p":"4 mm","k":"f","t":602,"fa":35.7,"fb":32.6,"fc":31.37},{"p":"4 mm","k":"f","t":605,"fa":33.86,"fb":31.72,"fc":30.6},{"p":"4 mm","k":"f","t":608,"fa":32.5,"fb":31.03,"fc":30.0},{"p":"4 mm","k":"f","t":611,"fa":31.49,"fb":30.49,"fc":29.54},{"p":"4 mm","k":"f","t":615,"fa":30.53,"fb":29.95,"fc":29.07},{"p":"4 mm","k":"f","t":620,"fa":29.77,"fb":29.49,"fc":28.67},{"p":"4 mm","k":"f","t":625,"fa":29.31,"fb":29.19,"fc":28.41},{"p":"4 mm","k":"f","t":630,"fa":29.03,"fb":28.99,"fc":28.24},{"p":"4 mm","k":"f","t":640,"fa":28.76,"fb":28.77,"fc":28.05},{"p":"4 mm","k":"f","t":650,"fa":28.66,"fb":28.67,"fc":27.96},{"p":"4 mm","k":"f","t":670,"fa":28.61,"fb":28.61,"fc":27.91},{"p":"4 mm","k":"f","t":700,"fa":28.6,"fb":28.6,"fc":27.9},{"p":"4 mm","k":"f","t":800,"fa":28.6,"fb":28.6,"fc":27.9},

{"p":"1 mm","k":"t","lab":"1 mm","t":-34,"v":58.5},{"p":"1 mm","k":"s","lab":"SiAu","t":498,"v":54.2},{"p":"1 mm","k":"s","lab":"FeSiAu","t":506,"v":47.0},{"p":"1 mm","k":"s","lab":"DC","t":489,"v":37.6},
{"p":"2 mm","k":"t","lab":"2 mm","t":-34,"v":57.9},{"p":"2 mm","k":"s","lab":"SiAu","t":438,"v":53.3},{"p":"2 mm","k":"s","lab":"FeSiAu","t":470,"v":43.7},{"p":"2 mm","k":"s","lab":"DC","t":452,"v":35.2},
{"p":"3 mm","k":"t","lab":"3 mm","t":-20,"v":57.6},{"p":"3 mm","k":"s","lab":"SiAu","t":481,"v":44.0},{"p":"3 mm","k":"s","lab":"FeSiAu","t":496,"v":37.5},{"p":"3 mm","k":"s","lab":"DC","t":484,"v":30.8},
{"p":"4 mm","k":"t","lab":"4 mm","t":-13,"v":57.6},{"p":"4 mm","k":"s","lab":"SiAu","t":471,"v":38.0},{"p":"4 mm","k":"s","lab":"FeSiAu","t":520,"v":33.8},{"p":"4 mm","k":"s","lab":"DC","t":495,"v":30.0}
]},
"facet": {"field": "p", "type": "nominal", "header": {"title": null, "labels": false, "labelExpr": "''", "labelFontSize": 0, "labelPadding": 0, "titlePadding": 0}},
"columns": 2,
"spacing": {"row": 82, "column": 131},
"resolve": {"axis": {"x": "independent", "y": "independent"}},
"spec": {
  "width": 360,
  "height": 279,
  "encoding": {
    "x": {"field": "t", "type": "quantitative", "scale": {"domain": [-50, 800], "nice": false, "zero": false},
      "axis": {"values": [0,100,200,300,400,500,600,700,800], "labelExpr": "datum.value % 200 == 0 ? datum.label : ''", "title": "Thoi gian [s]", "titleFontSize": 20, "titlePadding": 3, "tickSize": {"condition": {"test": "datum.value % 200 == 0", "value": 5}, "value": 3}}},
    "y": {"field": "v", "type": "quantitative", "scale": {"domain": [28, 60], "nice": false, "zero": false},
      "axis": {"values": [30,35,40,45,50,55,60], "labelExpr": "datum.value % 10 == 0 ? datum.label : ''", "title": "Nhiet do [ᴼC]", "titleFontSize": 17, "titlePadding": 8, "tickSize": {"condition": {"test": "datum.value % 10 == 0", "value": 5}, "value": 3}}}
  },
  "layer": [
    {
      "transform": [{"filter": "!datum.k"}, {"fold": ["c", "b", "a"], "as": ["s", "v"]}],
      "mark": {"type": "point", "filled": true, "opacity": 1, "strokeWidth": 0, "clip": true, "size": 32},
      "encoding": {
        "color": {"field": "s", "type": "nominal", "legend": null, "scale": {"domain": ["a", "b", "c", "fa", "fb", "fc"], "range": ["#0000ff", "#ff00ff", "#000000", "#ff0000", "#800000", "#800080"]}},
        "shape": {"field": "s", "type": "nominal", "legend": null, "scale": {"domain": ["a", "b", "c"], "range": ["triangle-up", "M0,-1L0.24,-0.33L0.95,-0.31L0.38,0.12L0.59,0.81L0,0.4L-0.59,0.81L-0.38,0.12L-0.95,-0.31L-0.24,-0.33Z", "circle"]}}
      }
    },
    {
      "transform": [{"filter": "datum.k == 'f'"}, {"fold": ["fc", "fb", "fa"], "as": ["s", "v"]}],
      "mark": {"type": "line", "strokeWidth": 3, "clip": true, "invalid": "filter"},
      "encoding": {
        "color": {"field": "s", "type": "nominal", "legend": null},
        "detail": {"field": "s"}
      }
    },
    {
      "transform": [{"filter": "datum.k == 's'"}],
      "mark": {"type": "text", "font": "Liberation Sans", "fontWeight": "bold", "fontSize": 17, "color": "black", "align": "center", "baseline": "middle"},
      "encoding": {"text": {"field": "lab"}}
    },
    {
      "transform": [{"filter": "datum.k == 't'"}],
      "mark": {"type": "text", "font": "Liberation Sans", "fontWeight": "bold", "fontSize": 20, "color": "black", "align": "left", "baseline": "middle"},
      "encoding": {"text": {"field": "lab"}}
    }
  ]
},
"config": {
  "view": {"stroke": "black", "strokeWidth": 2},
  "font": "Liberation Sans",
  "header": {"labels": false, "title": null, "labelFontSize": 0, "labelPadding": 0},
  "axis": {"domain": false, "grid": false, "tickColor": "black", "tickWidth": 1.5, "labelFont": "Liberation Sans", "labelFontWeight": "bold", "labelFontSize": 16, "labelColor": "black", "labelPadding": 3, "labelFlush": false, "labelOverlap": false, "titleFont": "Liberation Sans, DejaVu Sans", "titleFontWeight": "bold", "titleColor": "black"}
}
}
